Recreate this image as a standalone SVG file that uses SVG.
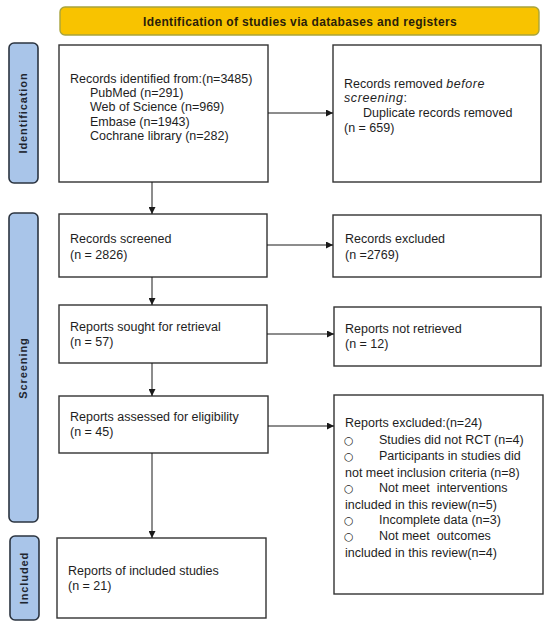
<svg xmlns="http://www.w3.org/2000/svg" width="550" height="629" viewBox="0 0 550 629">
<defs>
<marker id="arr" viewBox="0 0 10 10" refX="10" refY="5" markerWidth="7" markerHeight="7" markerUnits="userSpaceOnUse" orient="auto">
<path d="M0,0 L10,5 L0,10 z" fill="#1a1a1a"/>
</marker>
<style>
.box{fill:#fff;stroke:#333;stroke-width:1.4}
.side{fill:#a9c5e9;stroke:#2b3440;stroke-width:1.6}
.t{font-family:"Liberation Sans",Arial,sans-serif;font-size:12.5px;fill:#1e1e1e}
.it{font-style:italic;letter-spacing:0.6px}
.c{font-family:"DejaVu Sans","Liberation Sans",sans-serif;font-size:11px}
.lab{font-family:"Liberation Sans",Arial,sans-serif;font-size:11px;font-weight:bold;letter-spacing:0.9px;fill:#1e2530;text-anchor:middle}
.con{stroke:#1a1a1a;stroke-width:1;fill:none;marker-end:url(#arr)}
</style>
</defs>
<rect width="550" height="629" fill="#fff"/>

<g id="banner">
<rect x="60" y="7" width="479" height="28" rx="5" fill="#f8c300" stroke="#a8a43c" stroke-width="1.4"/>
<text x="300" y="25.5" text-anchor="middle" font-family="'Liberation Sans',Arial,sans-serif" font-size="12" font-weight="bold" letter-spacing="0.35" fill="#2a1e0a">Identification of studies via databases and registers</text>
</g>

<g id="side-identification">
<rect class="side" x="9" y="43" width="29" height="140" rx="5"/>
<text class="lab" transform="translate(27,113) rotate(-90)">Identification</text>
</g>
<g id="side-screening">
<rect class="side" x="9" y="213" width="29" height="309" rx="5"/>
<text class="lab" transform="translate(27,368) rotate(-90)">Screening</text>
</g>
<g id="side-included">
<rect class="side" x="10" y="536" width="29" height="84" rx="5"/>
<text class="lab" transform="translate(28,578) rotate(-90)">Included</text>
</g>

<g id="records-identified">
<rect class="box" x="59" y="45" width="209" height="137"/>
<text class="t" x="70" y="83">Records identified from:(n=3485)</text>
<text class="t" x="90" y="97">PubMed (n=291)</text>
<text class="t" x="90" y="111">Web of Science (n=969)</text>
<text class="t" x="90" y="125.5">Embase (n=1943)</text>
<text class="t" x="90" y="140">Cochrane library (n=282)</text>
</g>

<g id="records-removed">
<rect class="box" x="333" y="45" width="208" height="137"/>
<text class="t" x="344" y="88">Records removed <tspan class="it">before</tspan></text>
<text class="t" x="344" y="101.5"><tspan class="it">screening</tspan>:</text>
<text class="t" x="363" y="117">Duplicate records removed</text>
<text class="t" x="344" y="132">(n = 659)</text>
</g>

<g id="records-screened">
<rect class="box" x="59" y="214" width="208" height="63"/>
<text class="t" x="70" y="243">Records screened</text>
<text class="t" x="70" y="259">(n = 2826)</text>
</g>

<g id="records-excluded">
<rect class="box" x="333" y="215" width="208" height="62"/>
<text class="t" x="345" y="243">Records excluded</text>
<text class="t" x="345" y="259">(n =2769)</text>
</g>

<g id="reports-sought">
<rect class="box" x="59" y="305" width="208" height="58"/>
<text class="t" x="70" y="331">Reports sought for retrieval</text>
<text class="t" x="70" y="346">(n = 57)</text>
</g>

<g id="reports-not-retrieved">
<rect class="box" x="334" y="307" width="207" height="59"/>
<text class="t" x="345" y="333">Reports not retrieved</text>
<text class="t" x="345" y="348">(n = 12)</text>
</g>

<g id="reports-assessed">
<rect class="box" x="59" y="396" width="209" height="57"/>
<text class="t" x="70" y="421">Reports assessed for eligibility</text>
<text class="t" x="70" y="436">(n = 45)</text>
</g>

<g id="reports-excluded">
<rect class="box" x="334" y="395" width="209" height="199"/>
<text class="t" x="345" y="427">Reports excluded:(n=24)</text>
<text class="t" x="344" y="443.5"><tspan class="c">○</tspan></text>
<text class="t" x="379" y="443.5">Studies did not RCT (n=4)</text>
<text class="t" x="344" y="460"><tspan class="c">○</tspan></text>
<text class="t" x="379" y="460">Participants in studies did</text>
<text class="t" x="345" y="476.5">not meet inclusion criteria (n=8)</text>
<text class="t" x="344" y="492"><tspan class="c">○</tspan></text>
<text class="t" x="379" y="492" xml:space="preserve">Not meet  interventions</text>
<text class="t" x="345" y="508.5">included in this review(n=5)</text>
<text class="t" x="344" y="524"><tspan class="c">○</tspan></text>
<text class="t" x="379" y="524">Incomplete data (n=3)</text>
<text class="t" x="344" y="540"><tspan class="c">○</tspan></text>
<text class="t" x="379" y="540" xml:space="preserve">Not meet  outcomes</text>
<text class="t" x="345" y="557">included in this review(n=4)</text>
</g>

<g id="reports-included">
<rect class="box" x="57" y="538" width="209" height="80"/>
<text class="t" x="68" y="575">Reports of included studies</text>
<text class="t" x="68" y="590">(n = 21)</text>
</g>

<g id="connectors">
<line class="con" x1="268" y1="113" x2="333" y2="113"/>
<line class="con" x1="152" y1="182" x2="152" y2="214"/>
<line class="con" x1="267" y1="245" x2="333" y2="245"/>
<line class="con" x1="152" y1="277" x2="152" y2="305"/>
<line class="con" x1="267" y1="334" x2="334" y2="334"/>
<line class="con" x1="152" y1="363" x2="152" y2="396"/>
<line class="con" x1="268" y1="426" x2="334" y2="426"/>
<line class="con" x1="152" y1="453" x2="152" y2="538"/>
</g>
</svg>
